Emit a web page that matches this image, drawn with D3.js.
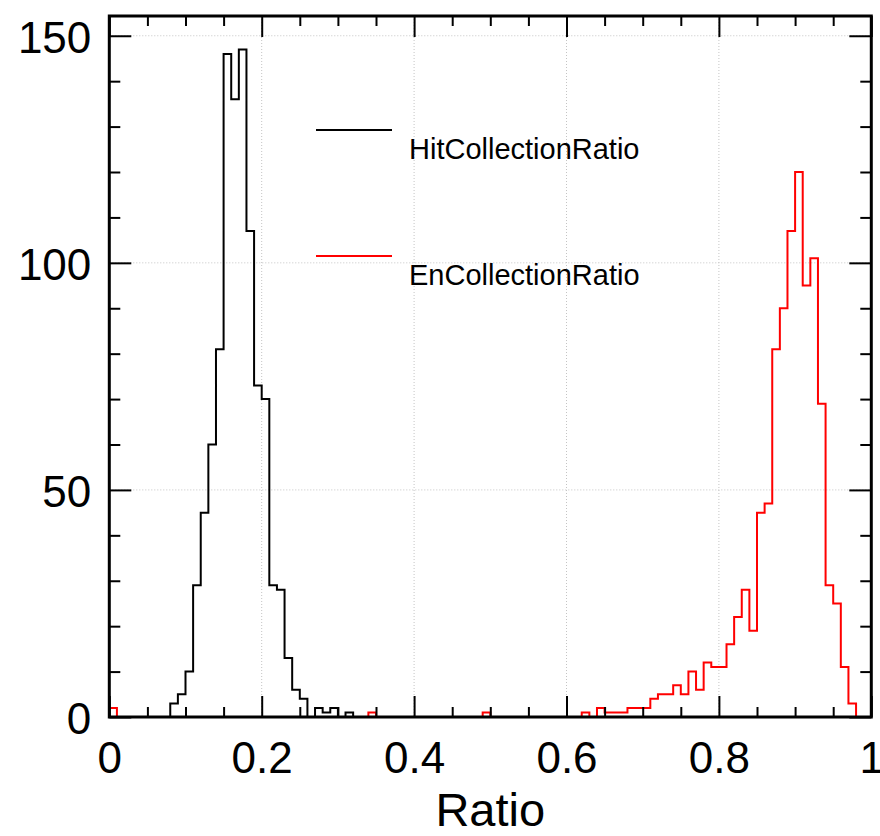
<!DOCTYPE html>
<html>
<head>
<meta charset="utf-8">
<script src="https://cdn.jsdelivr.net/npm/d3@7"></script>
<style>
  html, body { margin: 0; padding: 0; background: #fff; }
  svg { display: block; font-family: "Liberation Sans", Arial, Helvetica, sans-serif; }
</style>
</head>
<body>
<svg id="chart" width="880" height="836"></svg>
<script>
// 100 bins on [0, 1]
const binLow = 0;
const binHigh = 1;
const binCount = 100;

const hitCounts = [
  0, 0, 0, 0, 0, 0, 0, 0, 3, 5,
  10, 29, 45, 60, 81, 146, 136, 147, 107, 73,
  70, 29, 28, 13, 6, 4, 0, 2, 1, 2,
  0, 1, 0, 0, 0, 0, 0, 0, 0, 0,
  0, 0, 0, 0, 0, 0, 0, 0, 0, 0,
  0, 0, 0, 0, 0, 0, 0, 0, 0, 0,
  0, 0, 0, 0, 0, 0, 0, 0, 0, 0,
  0, 0, 0, 0, 0, 0, 0, 0, 0, 0,
  0, 0, 0, 0, 0, 0, 0, 0, 0, 0,
  0, 0, 0, 0, 0, 0, 0, 0, 0, 0
];

const enCounts = [
  2, 0, 0, 0, 0, 0, 0, 0, 0, 0,
  0, 0, 0, 0, 0, 0, 0, 0, 0, 0,
  0, 0, 0, 0, 0, 0, 0, 0, 0, 0,
  0, 0, 0, 0, 1, 0, 0, 0, 0, 0,
  0, 0, 0, 0, 0, 0, 0, 0, 0, 1,
  0, 0, 0, 0, 0, 0, 0, 0, 0, 0,
  0, 0, 1, 0, 2, 1, 1, 1, 2, 2,
  2, 4, 5, 5, 7, 5, 10, 6, 12, 11,
  11, 16, 22, 28, 19, 45, 47, 81, 90, 107,
  120, 95, 101, 69, 29, 25, 11, 3, 0, 0
];

const seriesNames = ["HitCollectionRatio", "EnCollectionRatio"];
const seriesColors = ["#000000", "#ff0000"];

const xMajorTicks = [0, 0.2, 0.4, 0.6, 0.8, 1];
const xMinorTicks = [0.05, 0.1, 0.15, 0.25, 0.3, 0.35, 0.45, 0.5, 0.55, 0.65, 0.7, 0.75, 0.85, 0.9, 0.95];
const yMajorTicks = [0, 50, 100, 150];
const yMinorTicks = [10, 20, 30, 40, 60, 70, 80, 90, 110, 120, 130, 140];
const yMax = 154.35;
const xTitle = "Ratio";

const margin = { left: 109.3, top: 16, right: 880 - 871.3, bottom: 836 - 717 };
const width = 880 - margin.left - margin.right;
const height = 836 - margin.top - margin.bottom;

const svg = d3.select("#chart");
const plot = svg.append("g")
  .attr("transform", `translate(${margin.left},${margin.top})`);

const x = d3.scaleLinear().domain([binLow, binHigh]).range([0, width]);
const y = d3.scaleLinear().domain([0, yMax]).range([height, 0]);

const fmt = d3.format("~g");

function drawGrid() {
  const grid = plot.append("g").attr("class", "grid")
    .attr("stroke", "#c4c4c4")
    .attr("stroke-width", 1)
    .attr("stroke-dasharray", "1,2");

  grid.selectAll("line.gx")
    .data(xMajorTicks.filter(d => d > binLow && d < binHigh))
    .enter()
    .append("line")
    .attr("class", "gx")
    .attr("x1", d => x(d))
    .attr("x2", d => x(d))
    .attr("y1", 0)
    .attr("y2", height);

  grid.selectAll("line.gy")
    .data(yMajorTicks.filter(d => d > 0))
    .enter()
    .append("line")
    .attr("class", "gy")
    .attr("x1", 0)
    .attr("x2", width)
    .attr("y1", d => y(d))
    .attr("y2", d => y(d));
}

function stepPoints(counts) {
  const w = (binHigh - binLow) / binCount;
  const pts = [[binLow, 0]];
  counts.forEach((c, i) => {
    pts.push([binLow + i * w, c]);
    pts.push([binLow + (i + 1) * w, c]);
  });
  pts.push([binHigh, 0]);
  return pts;
}

function drawHistograms() {
  const line = d3.line()
    .x(d => x(d[0]))
    .y(d => y(d[1]));

  [hitCounts, enCounts].forEach((counts, i) => {
    plot.append("path")
      .datum(stepPoints(counts))
      .attr("fill", "none")
      .attr("stroke", seriesColors[i])
      .attr("stroke-width", 2)
      .attr("stroke-linejoin", "miter")
      .attr("d", line);
  });
}

function styleAxis(g) {
  g.select(".domain").remove();
  g.selectAll(".tick line").attr("stroke", "#000").attr("stroke-width", 2);
  g.selectAll("text")
    .attr("fill", "#000")
    .attr("font-size", 44);
}

function drawAxes() {
  // bottom
  plot.append("g")
    .attr("transform", `translate(0,${height})`)
    .call(d3.axisBottom(x).tickValues(xMajorTicks).tickSize(-21).tickPadding(25).tickFormat(fmt))
    .call(styleAxis);
  plot.append("g")
    .attr("transform", `translate(0,${height})`)
    .call(d3.axisBottom(x).tickValues(xMinorTicks).tickSize(-10).tickFormat(""))
    .call(styleAxis);

  // top
  plot.append("g")
    .call(d3.axisTop(x).tickValues(xMajorTicks).tickSize(-21).tickFormat(""))
    .call(styleAxis);
  plot.append("g")
    .call(d3.axisTop(x).tickValues(xMinorTicks).tickSize(-10).tickFormat(""))
    .call(styleAxis);

  // left
  const left = plot.append("g")
    .call(d3.axisLeft(y).tickValues(yMajorTicks).tickSize(-22).tickPadding(18).tickFormat(fmt))
    .call(styleAxis);
  left.selectAll("text").attr("dy", "0.38em");
  plot.append("g")
    .call(d3.axisLeft(y).tickValues(yMinorTicks).tickSize(-11).tickFormat(""))
    .call(styleAxis);

  // right
  plot.append("g")
    .attr("transform", `translate(${width},0)`)
    .call(d3.axisRight(y).tickValues(yMajorTicks).tickSize(-22).tickFormat(""))
    .call(styleAxis);
  plot.append("g")
    .attr("transform", `translate(${width},0)`)
    .call(d3.axisRight(y).tickValues(yMinorTicks).tickSize(-11).tickFormat(""))
    .call(styleAxis);

  plot.append("rect")
    .attr("x", 0)
    .attr("y", 0)
    .attr("width", width)
    .attr("height", height)
    .attr("fill", "none")
    .attr("stroke", "#000")
    .attr("stroke-width", 3);

  svg.append("text")
    .attr("x", margin.left + width / 2)
    .attr("y", 826)
    .attr("text-anchor", "middle")
    .attr("font-size", 47)
    .attr("fill", "#000")
    .text(xTitle);
}

function drawLegend() {
  const legend = svg.append("g").attr("class", "legend");
  const rows = [130, 256];

  seriesNames.forEach((name, i) => {
    legend.append("line")
      .attr("x1", 316)
      .attr("x2", 392)
      .attr("y1", rows[i])
      .attr("y2", rows[i])
      .attr("stroke", seriesColors[i])
      .attr("stroke-width", 2);

    legend.append("text")
      .attr("x", 409)
      .attr("y", rows[i] + 29)
      .attr("font-size", 29)
      .attr("fill", "#000")
      .text(name);
  });
}

drawGrid();
drawHistograms();
drawAxes();
drawLegend();
</script>
</body>
</html>
